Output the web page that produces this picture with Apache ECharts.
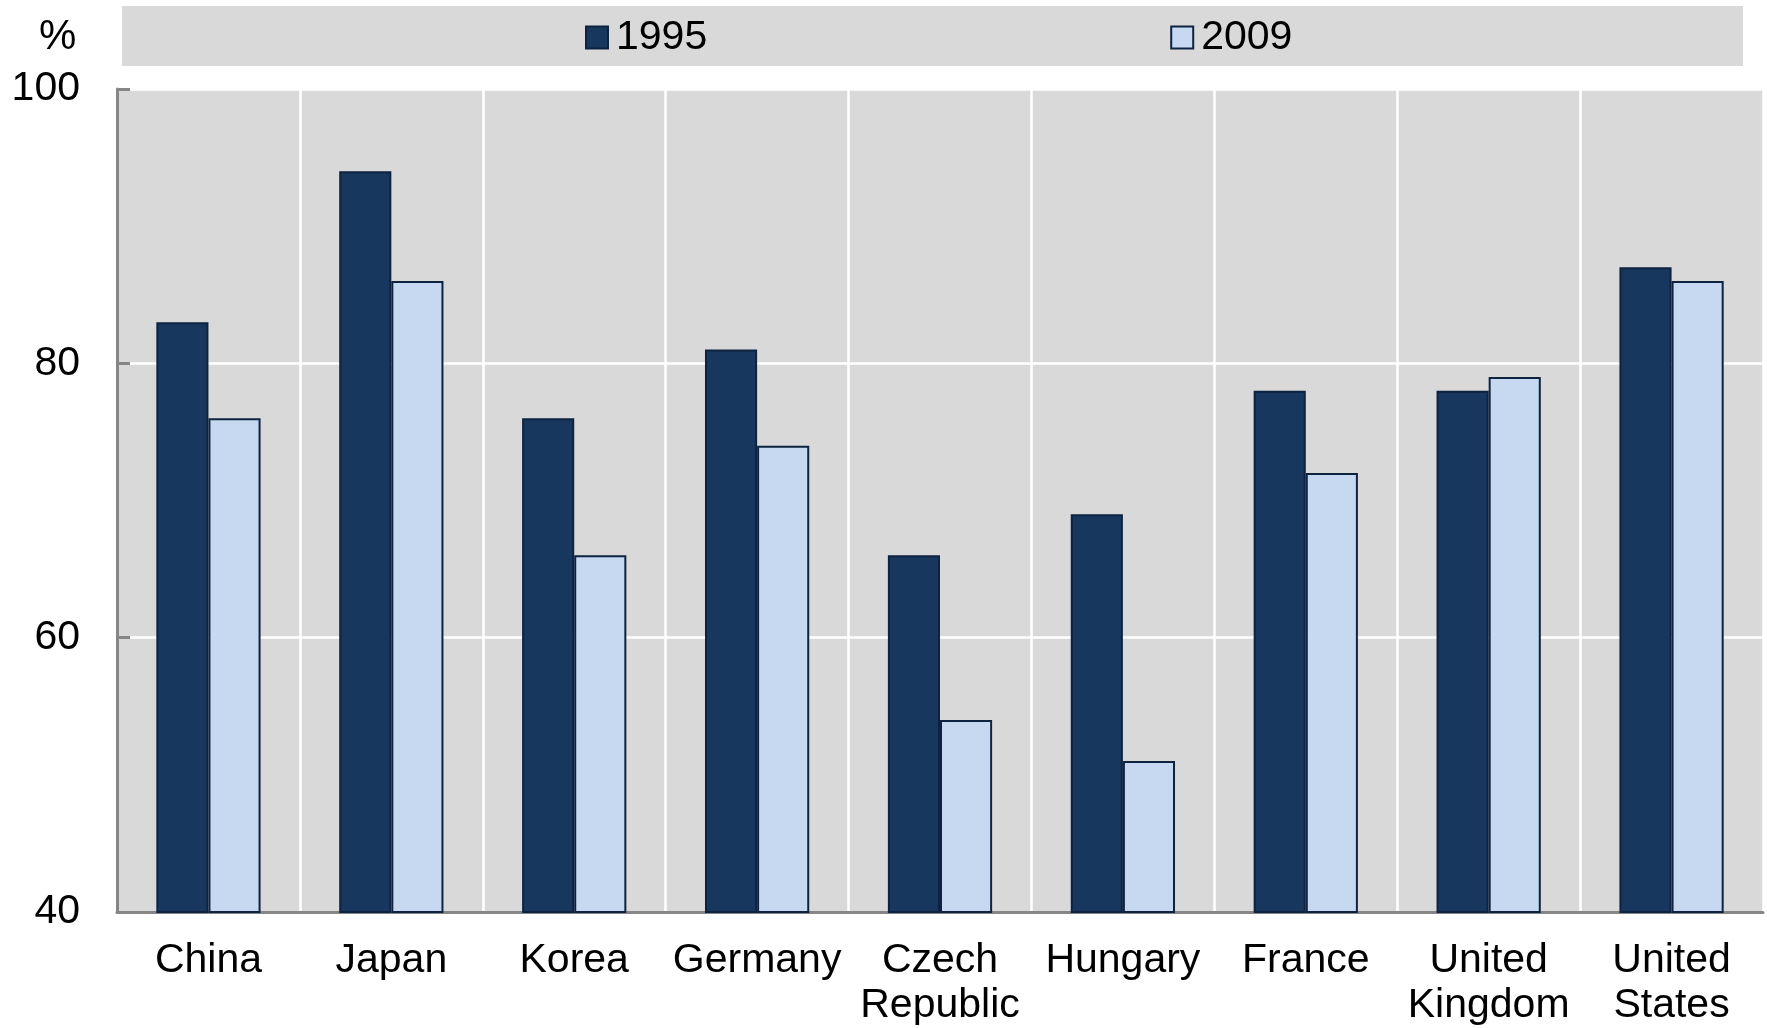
<!DOCTYPE html>
<html>
<head>
<meta charset="utf-8">
<script src="https://cdn.jsdelivr.net/npm/echarts@6/dist/echarts.min.js"></script>
<style>
  html, body { margin: 0; padding: 0; background: #ffffff; }
  #chart { width: 1767px; height: 1028px; }
</style>
</head>
<body>
<div id="chart"></div>
<script>
// Share of domestic value added (%), by country
const countries = ['China', 'Japan', 'Korea', 'Germany', 'Czech\nRepublic', 'Hungary', 'France', 'United\nKingdom', 'United\nStates'];
const values1995 = [83, 94, 76, 81, 66, 69, 78, 78, 87];
const values2009 = [76, 86, 66, 74, 54, 51, 72, 79, 86];
const seriesNames = ['1995', '2009'];
const yTicks = { min: 40, max: 100, step: 20 };

const FONT = '"Liberation Sans", Arial, sans-serif';
const AXIS_GREY = '#868686';
const PANEL = '#d9d9d9';
const BORDER = '#0e2340';

const chart = echarts.init(document.getElementById('chart'), null, { renderer: 'canvas' });

chart.setOption({
  backgroundColor: '#ffffff',
  animation: false,
  textStyle: { fontFamily: FONT },
  graphic: [
    // legend band
    { type: 'rect', z: -1, shape: { x: 122, y: 6, width: 1621, height: 60 }, style: { fill: PANEL } },
    // unit label
    { type: 'text', left: 39, top: 16, style: { text: '%', font: '42px ' + FONT, fill: '#000' } }
  ],
  legend: {
    data: seriesNames,
    icon: 'rect',
    left: 580,
    top: 12,
    itemWidth: 22,
    itemHeight: 22,
    itemGap: 463,
    textStyle: { fontSize: 41, color: '#000', fontFamily: FONT, padding: [0, 0, 0, 3] }
  },
  grid: { left: 117, top: 89, right: 4, bottom: 110, backgroundColor: PANEL, show: true, borderWidth: 0 },
  xAxis: {
    type: 'category',
    data: countries,
    axisLine: { lineStyle: { color: AXIS_GREY, width: 3 } },
    axisTick: { inside: true, length: 9, lineStyle: { color: AXIS_GREY, width: 2.5 } },
    splitLine: { show: true, lineStyle: { color: '#ffffff', width: 2.5 } },
    axisLabel: { fontSize: 41, color: '#000', fontFamily: FONT, margin: 26, lineHeight: 45, interval: 0 }
  },
  yAxis: {
    type: 'value',
    min: yTicks.min,
    max: yTicks.max,
    interval: yTicks.step,
    axisLine: { show: true, lineStyle: { color: AXIS_GREY, width: 3 } },
    axisTick: { show: true, inside: true, length: 13, lineStyle: { color: AXIS_GREY, width: 3 } },
    splitLine: { show: true, lineStyle: { color: '#ffffff', width: 2.5 } },
    axisLabel: { fontSize: 41, color: '#000', fontFamily: FONT, margin: 37 }
  },
  series: [
    {
      name: seriesNames[0],
      type: 'bar',
      data: values1995,
      barWidth: '28.5%',
      barGap: '0%',
      itemStyle: { color: '#17375e', borderColor: BORDER, borderWidth: 2 }
    },
    {
      name: seriesNames[1],
      type: 'bar',
      data: values2009,
      barWidth: '28.5%',
      barGap: '0%',
      itemStyle: { color: '#c6d9f0', borderColor: BORDER, borderWidth: 2 }
    }
  ]
});
</script>
</body>
</html>
